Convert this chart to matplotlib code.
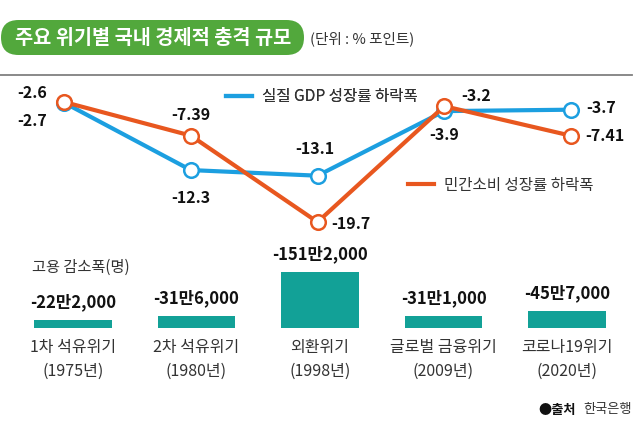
import matplotlib
matplotlib.use("Agg")
import matplotlib.pyplot as plt
from matplotlib.lines import Line2D
from matplotlib.patches import FancyBboxPatch
from matplotlib.transforms import IdentityTransform

plt.rcParams['font.family'] = ['Noto Sans CJK KR', 'DejaVu Sans']

# data
crises = ["1차 석유위기", "2차 석유위기", "외환위기", "글로벌 금융위기", "코로나19위기"]
years = ["1975년", "1980년", "1998년", "2009년", "2020년"]
gdp_drop = [-2.7, -12.3, -13.1, -3.9, -3.7]
cons_drop = [-2.6, -7.39, -19.7, -3.2, -7.41]
job_loss = [22.2, 31.6, 151.2, 31.1, 45.7]  # 만 명
job_labels = ["-22만2,000", "-31만6,000", "-151만2,000", "-31만1,000", "-45만7,000"]

BLUE = "#1c9fe0"
ORANGE = "#e8571f"
TEAL = "#12a197"
GREEN = "#52a83c"
W, H = 640, 433

fig = plt.figure(figsize=(6.4, 4.33), dpi=100)


def box(x0, y0, x1, y1):
    # pixel box (top-left origin) -> figure fraction rect
    return [x0 / W, 1 - y1 / H, (x1 - x0) / W, (y1 - y0) / H]


# title pill (display pixels, bottom-left origin)
tb = FancyBboxPatch((1, H - 55), 303, 35,
                    boxstyle="round,pad=0,rounding_size=17.5",
                    transform=IdentityTransform(), fc=GREEN, ec="none")
fig.patches.append(tb)
fig.text(153 / W, 1 - 38 / H, "주요 위기별 국내 경제적 충격 규모", color="white",
         fontsize=14.2, fontweight="bold", ha="center", va="center")
fig.text(310 / W, 1 - 39 / H, "(단위 : % 포인트)", color="#333333",
         fontsize=10.5, ha="left", va="center")
fig.add_artist(Line2D([0, 632 / W], [1 - 75 / H, 1 - 75 / H],
                      transform=fig.transFigure, color="#808080", lw=1.3))

# line chart
ax = fig.add_axes(box(0, 80, 640, 240))
ax.set_xlim(-0.505, 4.544)
ax.set_ylim(-22.26, 0.53)
ax.axis("off")
xs = range(len(crises))
ax.plot(xs, gdp_drop, color=BLUE, lw=3, marker="o", ms=10.5, mfc="white",
        mec=BLUE, mew=1.8, zorder=3)
ax.plot(xs, cons_drop, color=ORANGE, lw=3, marker="o", ms=10.5, mfc="white",
        mec=ORANGE, mew=1.8, zorder=4)

lab = dict(textcoords="offset pixels", fontsize=11.5, fontweight="bold",
           va="center", color="#111111")
gdp_off = [(-32, -18, "center"), (0, -28, "center"), (-3, 27, "center"),
           (0, -24, "center"), (15, 2, "left")]
cons_off = [(-32, 9, "center"), (0, 21, "center"), (14, -2, "left"),
            (17, 10, "left"), (14, 0, "left")]
for i, v in enumerate(gdp_drop):
    dx, dy, ha = gdp_off[i]
    ax.annotate(f"{v:g}", (i, v), xytext=(dx, dy), ha=ha, **lab)
for i, v in enumerate(cons_drop):
    dx, dy, ha = cons_off[i]
    ax.annotate(f"{v:g}", (i, v), xytext=(dx, dy), ha=ha, **lab)

h1 = Line2D([], [], color=BLUE, lw=3)
h2 = Line2D([], [], color=ORANGE, lw=3)
leg1 = fig.legend([h1], ["실질 GDP 성장률 하락폭"], loc="center left",
                  bbox_to_anchor=(212 / W, 1 - 97 / H), frameon=False,
                  fontsize=11.2, handlelength=1.7, handletextpad=0.6,
                  labelcolor="#333333")
leg2 = fig.legend([h2], ["민간소비 성장률 하락폭"], loc="center left",
                  bbox_to_anchor=(394 / W, 1 - 185 / H), frameon=False,
                  fontsize=11.2, handlelength=1.7, handletextpad=0.6,
                  labelcolor="#333333")
fig.add_artist(leg1)

# bar chart
bx = fig.add_axes(box(0, 250, 640, 328))
bx.set_xlim(-0.591, 4.591)
bx.set_ylim(0, 78 / 0.37)
bars = bx.bar(xs, job_loss, width=0.63, color=TEAL)
for rect, t in zip(bars, job_labels):
    bx.annotate(t, (rect.get_x() + rect.get_width() / 2, rect.get_height()),
                xytext=(0, 18), textcoords="offset pixels", ha="center",
                va="center", fontsize=12, fontweight="bold", color="#111111")
for s in bx.spines.values():
    s.set_visible(False)
bx.set_yticks([])
bx.set_xticks(list(xs))
bx.set_xticklabels([f"{c}\n({y})" for c, y in zip(crises, years)],
                   fontsize=11.5, color="#333333", linespacing=1.5)
bx.tick_params(axis="x", length=0, pad=8)

fig.text(32 / W, 1 - 267 / H, "고용 감소폭(명)", fontsize=11, color="#333333",
         ha="left", va="center")
fig.text(632 / W, 1 - 410 / H, "한국은행", fontsize=9.5, color="#333333",
         ha="right", va="center")
fig.text(576 / W, 1 - 410 / H, "●출처", fontsize=9.5, color="#111111",
         fontweight="bold", ha="right", va="center")

fig.savefig("out.png", dpi=100, facecolor="white")
